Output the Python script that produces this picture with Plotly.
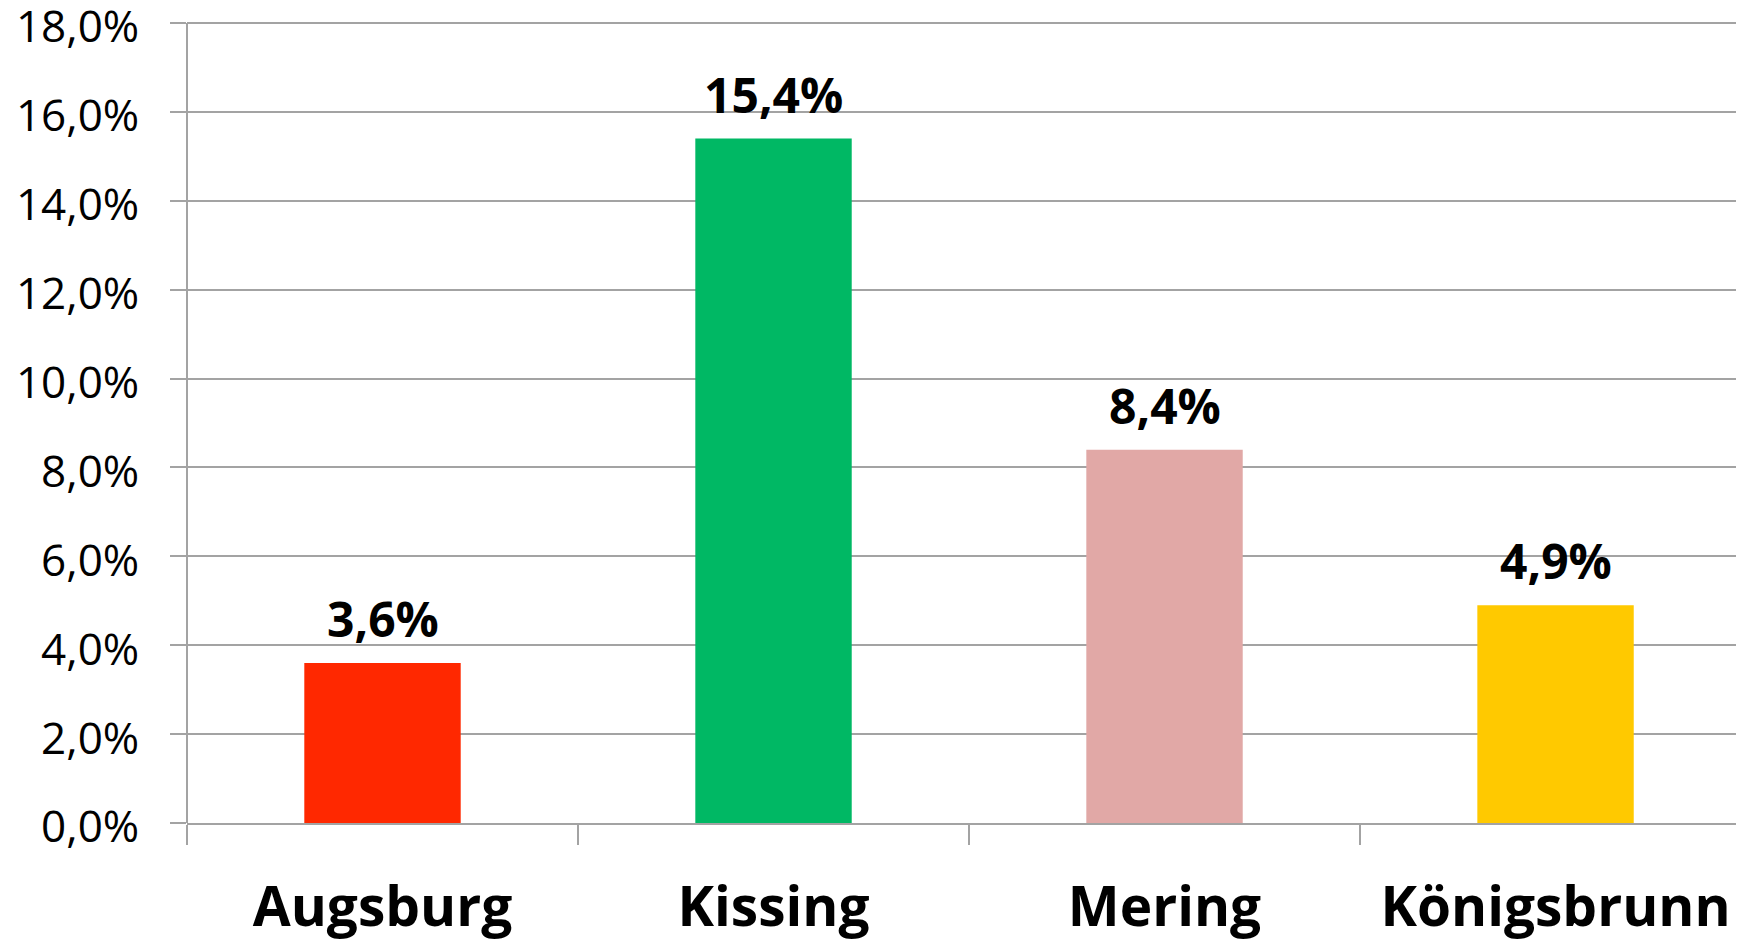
import plotly.graph_objects as go

categories = ["Augsburg", "Kissing", "Mering", "Königsbrunn"]
values = [3.6, 15.4, 8.4, 4.9]
colors = ["#FF2800", "#00B864", "#E1A8A6", "#FFC900"]
y_ticks = [0, 2, 4, 6, 8, 10, 12, 14, 16, 18]
y_tick_labels = [f"{v:.1f}%".replace(".", ",") for v in y_ticks]
value_labels = [f"{v:.1f}%".replace(".", ",") for v in values]

FONT = "Open Sans"
GRID = "#A3A3A3"

fig = go.Figure()
fig.add_trace(go.Bar(
    x=categories, y=values, marker=dict(color=colors, line=dict(width=0)),
    width=0.4, showlegend=False, hoverinfo="skip",
))

for c, v, t in zip(categories, values, value_labels):
    fig.add_annotation(
        x=c, y=v, text=f"<b>{t}</b>", showarrow=False, yanchor="bottom",
        yshift=10, font=dict(family=FONT, size=48, color="#000000"),
    )

# plot area: 0% at figure y=815, 18% at figure y=15 -> 44.44 px per unit
y_top = 815 / (800 / 18)

fig.update_layout(
    width=1736, height=935,
    margin=dict(l=179, r=0, t=0, b=120, autoexpand=False),
    paper_bgcolor="white", plot_bgcolor="white",
)
fig.update_xaxes(
    type="category", range=[-0.5, 3.482], automargin=False,
    showline=True, linecolor=GRID, linewidth=2,
    ticks="outside", tickson="boundaries", ticklen=20, tickwidth=2, tickcolor=GRID,
    showgrid=False,
    tickfont=dict(family=FONT, size=55, color="#000000"),
    tickvals=categories, ticktext=[f"<b>{c}</b>" for c in categories],
    ticklabelstandoff=35,
)
fig.update_yaxes(
    range=[0, y_top], tickvals=y_ticks, ticktext=y_tick_labels, automargin=False,
    showline=False,
    showgrid=True, gridcolor=GRID, gridwidth=2,
    ticks="outside", ticklen=16, tickwidth=2, tickcolor=GRID,
    tickfont=dict(family=FONT, size=44, color="#000000"),
    ticklabelstandoff=22, ticklabelshift=4, ticklabeloverflow="allow",
    zeroline=False,
)
# vertical axis line from 0 to 18 only
fig.add_shape(type="line", xref="paper", yref="y", x0=0, x1=0, y0=0, y1=18,
              line=dict(color=GRID, width=2), layer="below")

fig.write_html("out.html")
